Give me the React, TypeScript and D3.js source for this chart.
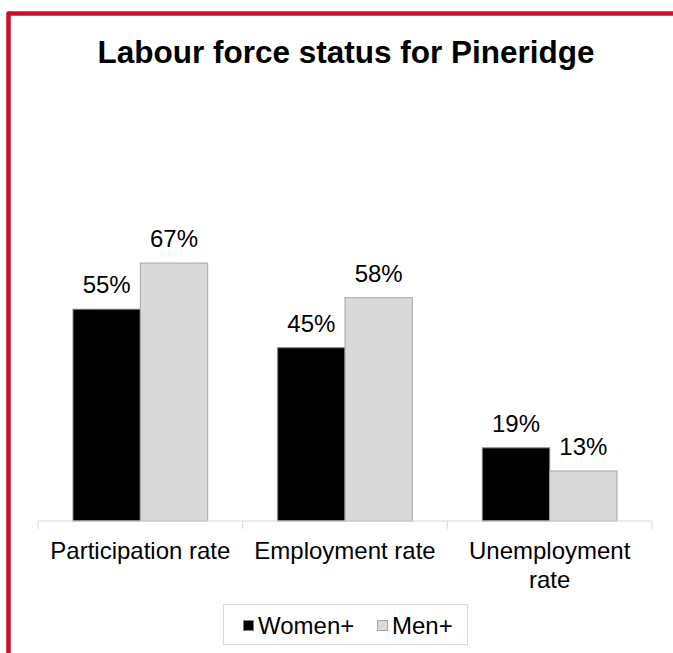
import { useEffect, useRef } from 'react'
import * as d3 from 'd3'

const categories = ['Participation rate', 'Employment rate', 'Unemployment rate']
const categoryLines = [['Participation rate'], ['Employment rate'], ['Unemployment', 'rate']]
const series = ['Women+', 'Men+']
const women = [0.55, 0.45, 0.19]
const men = [0.67, 0.58, 0.13]
const seriesColors = ['#000000', '#d9d9d9']
const seriesStrokes = ['#7f7f7f', '#a6a6a6']

export default function App() {
  const ref = useRef<SVGSVGElement>(null)

  useEffect(() => {
    if (!ref.current) return
    const svg = d3.select(ref.current)
    svg.selectAll('*').remove()

    const width = 673
    const height = 653
    const font = 'Liberation Sans, Arial, sans-serif'

    // Frame
    svg.append('path')
      .attr('d', `M8.5,${height} L8.5,13.5 L${width},13.5`)
      .attr('fill', 'none')
      .attr('stroke', '#c8102e')
      .attr('stroke-width', 4.5)
      .attr('stroke-linejoin', 'round')

    svg.append('text')
      .attr('x', 346).attr('y', 63)
      .attr('text-anchor', 'middle')
      .attr('font-family', font)
      .attr('font-weight', 'bold')
      .attr('font-size', '31.5px')
      .attr('fill', '#000')
      .text('Labour force status for Pineridge')

    const baseY = 521
    const x = d3.scaleBand().domain(categories).range([38, 652]).paddingInner(0).paddingOuter(0)
    const xi = d3.scaleBand().domain(series).range([0, x.bandwidth()]).paddingInner(0).paddingOuter(0.52)
    const y = d3.scaleLinear().domain([0, 1]).range([baseY, 136])

    const g = svg.append('g')
    const values = [women, men]

    series.forEach((s, si) => {
      categories.forEach((c, ci) => {
        const v = values[si][ci]
        const bx = (x(c) ?? 0) + (xi(s) ?? 0)
        g.append('rect')
          .attr('x', bx).attr('y', y(v))
          .attr('width', xi.bandwidth())
          .attr('height', baseY - y(v))
          .attr('fill', seriesColors[si])
          .attr('stroke', seriesStrokes[si])
          .attr('stroke-width', 1)
        g.append('text')
          .attr('x', bx + xi.bandwidth() / 2)
          .attr('y', y(v) - 16)
          .attr('text-anchor', 'middle')
          .attr('font-family', font)
          .attr('font-size', '24px')
          .attr('fill', '#000')
          .text(`${Math.round(v * 100)}%`)
      })
    })

    // Axis
    g.append('line')
      .attr('x1', 38).attr('x2', 652)
      .attr('y1', baseY).attr('y2', baseY)
      .attr('stroke', '#d9d9d9').attr('stroke-width', 1)
    const tickXs = [...categories.map(c => x(c) ?? 0), 652]
    tickXs.forEach(tx => {
      g.append('line')
        .attr('x1', tx).attr('x2', tx)
        .attr('y1', baseY).attr('y2', baseY + 8)
        .attr('stroke', '#d9d9d9').attr('stroke-width', 1)
    })

    categories.forEach((c, ci) => {
      const t = g.append('text')
        .attr('x', (x(c) ?? 0) + x.bandwidth() / 2)
        .attr('y', 559)
        .attr('text-anchor', 'middle')
        .attr('font-family', font)
        .attr('font-size', '24px')
        .attr('fill', '#000')
      categoryLines[ci].forEach((line, li) => {
        t.append('tspan')
          .attr('x', (x(c) ?? 0) + x.bandwidth() / 2)
          .attr('dy', li === 0 ? 0 : 29)
          .text(line)
      })
    })

    // Legend
    const lg = svg.append('g')
    lg.append('rect')
      .attr('x', 223.5).attr('y', 604.5)
      .attr('width', 244).attr('height', 40)
      .attr('fill', '#fff')
      .attr('stroke', '#d9d9d9')
    const legendX = [243, 377]
    series.forEach((s, si) => {
      lg.append('rect')
        .attr('x', legendX[si] + 0.5).attr('y', 620.5)
        .attr('width', 10).attr('height', 10)
        .attr('fill', seriesColors[si])
        .attr('stroke', seriesStrokes[si])
      lg.append('text')
        .attr('x', legendX[si] + 15).attr('y', 634)
        .attr('font-family', font)
        .attr('font-size', '24px')
        .attr('fill', '#000')
        .text(s)
    })
  }, [])

  return (
    <svg ref={ref} width={673} height={653}
      style={{ position: 'absolute', left: 0, top: 0, background: '#fff' }} />
  )
}
